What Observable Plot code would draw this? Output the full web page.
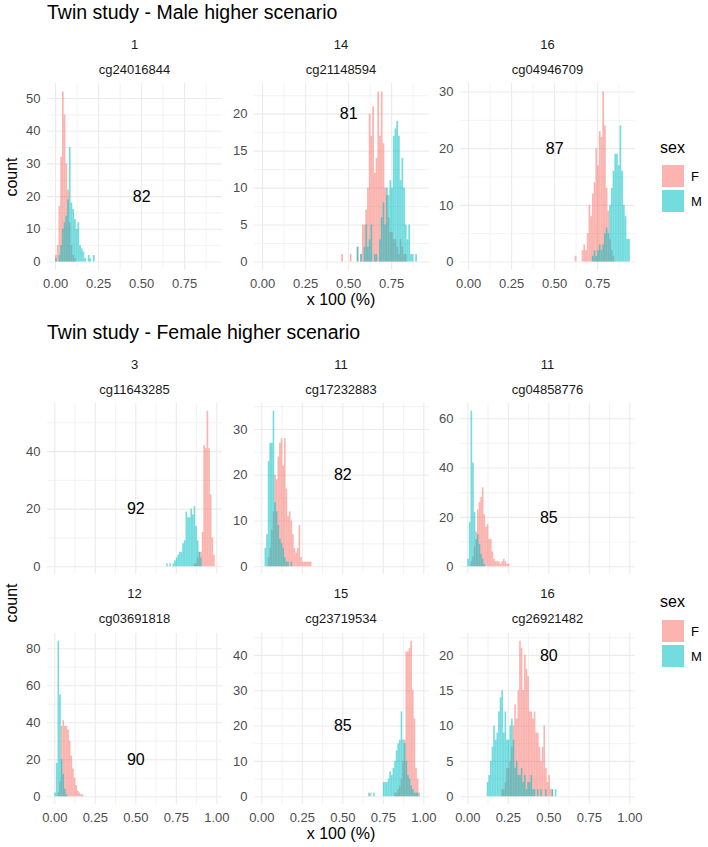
<!DOCTYPE html>
<html><head><meta charset="utf-8">
<script src="https://cdn.jsdelivr.net/npm/d3@7"></script>
<script src="https://cdn.jsdelivr.net/npm/@observablehq/plot@0.6"></script>
<style>
body{margin:0;background:#fff;}
#root{position:relative;width:708px;height:847px;font-family:"Liberation Sans",Arial,Helvetica,sans-serif;overflow:hidden;background:#fff;}
.t{position:absolute;white-space:nowrap;line-height:1;}
.pan{position:absolute;}
</style></head><body><div id="root"></div>
<script>
// ---------------- data ----------------
const titles = ["Twin study - Male higher scenario", "Twin study - Female higher scenario"];
const chrs = ["1","14","16","3","11","11","12","15","16"];
const cpgs = ["cg24016844","cg21148594","cg04946709","cg11643285","cg17232883","cg04858776","cg03691818","cg23719534","cg26921482"];
const pcts = [82,81,87,92,82,85,90,85,80];
const pctLabelX = 0.5, pctLabelY = 20;
const sexes = ["F","M"];
const sexColors = ["#F8766D","#00BFC4"];
const binWidth = 0.01;

// first bin start of each panel's histogram
const startF = [0.00,0.46,0.62,0.86,0.04,0.02,0.02,0.67,0.21];
const startM = [0.00,0.55,0.72,0.69,0.02,0.00,0.00,0.66,0.12];

const F_cg24016844 = [2,5,17,32,52,45,30,22,12,5,2,1];
const M_cg24016844 = [1,0,2,5,10,12,14,19,35,18,16,13,10,12,5,4,3,1,0,2,1,0,2];
const F_cg21148594 = [1,0,0,0,0,1,0,0,0,2,0,1,5,5,7,10,20,17,21,12,14,23,17,23,16,10,9,6,4,4,3,3,2,1,3,2,1,1];
const M_cg21148594 = [2,0,1,0,2,5,2,3,5,0,1,1,0,3,6,8,5,10,9,11,10,17,18,19,17,11,14,10,5,3,5,1,1,0,1];
const F_cg04946709 = [1,0,0,0,2,3,2,5,10,8,12,14,20,17,23,22,30,24,13,9,4,2,1];
const M_cg04946709 = [1,2,1,2,3,2,3,5,6,5,10,13,16,19,19,17,24,16,10,8,4,4];
const F_cg11643285 = [1,1,3,5,5,12,42,41,54,41,25,10,4];
const M_cg11643285 = [1,0,1,0,1,2,3,4,5,5,8,9,19,17,17,20,18,21,14,9,5,3];
const F_cg17232883 = [2,4,8,12,20,19,24,27,28,22,28,17,11,12,10,7,4,3,4,9,2,1,1,1,1,1,1];
const M_cg17232883 = [4,7,23,27,27,34,14,12,9,6,5,4,2,1,1,0,1];
const F_cg04858776 = [2,4,8,14,23,26,28,32,21,16,17,11,11,6,3,2,2,2,1,2,3,2,1,1];
const M_cg04858776 = [3,18,63,42,22,11,13,9,5,3,1];
const F_cg03691818 = [2,8,38,41,38,38,36,30,22,15,10,6,3,2,1,1];
const M_cg03691818 = [2,18,84,55,20,12,4,1];
const F_cg23719534 = [1,0,0,0,0,0,0,0,0,0,0,0,0,0,0,1,1,2,3,5,10,16,41,41,42,44,30,22,8,5,1];
const M_cg23719534 = [1,0,0,1,0,0,0,0,0,4,4,4,5,7,6,8,10,13,15,16,24,16,15,10,6,5,3,2,1,1,1];
const F_cg26921482 = [1,1,2,4,4,5,7,10,13,11,15,22,21,15,20,18,17,12,12,11,12,9,9,7,5,7,10,4,2,3,1,1];
const M_cg26921482 = [2,3,5,7,10,8,9,12,14,15,9,12,8,8,10,11,8,4,5,3,3,4,2,3,1,2,2,3,1,1,0,1,0,1,0,0,1,0,0,0,1,0,1];

const countsF = [F_cg24016844,F_cg21148594,F_cg04946709,F_cg11643285,F_cg17232883,F_cg04858776,F_cg03691818,F_cg23719534,F_cg26921482];
const countsM = [M_cg24016844,M_cg21148594,M_cg04946709,M_cg11643285,M_cg17232883,M_cg04858776,M_cg03691818,M_cg23719534,M_cg26921482];

const yTicks = [[0,10,20,30,40,50],[0,5,10,15,20],[0,10,20,30],[0,20,40],[0,10,20,30],[0,20,40,60],[0,20,40,60,80],[0,10,20,30,40],[0,5,10,15,20]];
const xTicksTop = [0,0.25,0.5,0.75];
const xTicksBottom = [0,0.25,0.5,0.75,1];
const xDomainTop = [-0.047, 0.97];
const xDomainBottom = [-0.045, 1.035];

// ---------------- helpers ----------------
const root = document.getElementById("root");
const FONT = '"Liberation Sans",Arial,Helvetica,sans-serif';
const ALPHA = 0.55;

function binRows(start, counts, sex) {
  return counts.map((c, j) => {
    const x1 = +(start + j * binWidth).toFixed(4);
    return {x1, x2: +(x1 + binWidth).toFixed(4), count: c, sex};
  }).filter(d => d.count > 0);
}
function minorBreaks(b, lim) {
  const bd = b[1] - b[0];
  const bb = b.slice();
  if (lim[0] < bb[0]) bb.unshift(bb[0] - bd);
  if (lim[1] > bb[bb.length - 1]) bb.push(bb[bb.length - 1] + bd);
  const out = [];
  for (let k = 0; k < bb.length - 1; k++) out.push((bb[k] + bb[k + 1]) / 2);
  return out.filter(v => v >= lim[0] && v <= lim[1]);
}
function addText(txt, opts) {
  const d = document.createElement("div");
  d.className = "t";
  d.textContent = txt;
  const f = opts.size;
  d.style.fontSize = f + "px";
  d.style.color = opts.color || "#000";
  if (opts.baseline != null) d.style.top = (opts.baseline - 0.8465 * f) + "px";
  if (opts.top != null) d.style.top = opts.top + "px";
  d.style.left = opts.left + "px";
  let tr = "";
  if (opts.center) tr += "translateX(-50%) ";
  if (opts.transform) tr += opts.transform;
  if (tr) d.style.transform = tr;
  root.appendChild(d);
  return d;
}

// ---------------- layout ----------------
const panelLefts = [47, 253.5, 460];
const panelW = 175;
const rowsLayout = [
  {top: 83, h: 187, xaxis: true, dom: xDomainTop, xt: xTicksTop},
  {top: 402.7, h: 171, xaxis: false, dom: xDomainBottom, xt: xTicksBottom},
  {top: 632.5, h: 171, xaxis: true, dom: xDomainBottom, xt: xTicksBottom}
];
const mL = 40, mB = 26;
const GRID = "#EBEBEB";

cpgs.forEach((cpg, i) => {
  const row = i < 3 ? 0 : (i < 6 ? 1 : 2);
  const col = i % 3;
  const L = rowsLayout[row];
  const F = binRows(startF[i], countsF[i], "F");
  const M = binRows(startM[i], countsM[i], "M");
  const maxC = d3.max([...F, ...M], d => d.count);
  const ydom = [-0.05 * maxC, 1.05 * maxC];
  const yt = yTicks[i];
  const yMinor = minorBreaks(yt, ydom);
  const xMinor = minorBreaks(L.xt, L.dom);
  const mb = L.xaxis ? mB : 0;
  const marks = [
    Plot.ruleX(xMinor, {x: d => d, stroke: GRID, strokeWidth: 0.6}),
    Plot.ruleY(yMinor, {y: d => d, stroke: GRID, strokeWidth: 0.6}),
    Plot.ruleX(L.xt, {x: d => d, stroke: GRID, strokeWidth: 1.1}),
    Plot.ruleY(yt, {y: d => d, stroke: GRID, strokeWidth: 1.1}),
    Plot.rectY(F, {x1: "x1", x2: "x2", y1: 0, y2: "count", fill: sexColors[0], fillOpacity: ALPHA, inset: 0}),
    Plot.rectY(M, {x1: "x1", x2: "x2", y1: 0, y2: "count", fill: sexColors[1], fillOpacity: ALPHA, inset: 0}),
    Plot.text([pcts[i]], {x: () => pctLabelX, y: () => pctLabelY, text: d => String(d), fontSize: 16, fill: "#000"}),
    Plot.axisY({ticks: yt, tickSize: 0, tickPadding: 7, label: null, fill: "#4D4D4D"})
  ];
  if (L.xaxis) marks.push(Plot.axisX({ticks: L.xt, tickSize: 0, tickPadding: 8, tickFormat: d3.format(".2f"), label: null, fill: "#4D4D4D"}));
  const chart = Plot.plot({
    width: mL + panelW,
    height: L.h + mb,
    marginLeft: mL, marginRight: 0, marginTop: 0, marginBottom: mb,
    x: {domain: L.dom, axis: L.xaxis ? undefined : null},
    y: {domain: ydom},
    style: {fontSize: "13px", fontFamily: FONT, color: "#4D4D4D", background: "transparent", overflow: "visible"},
    marks
  });
  const wrap = document.createElement("div");
  wrap.className = "pan";
  wrap.style.left = (panelLefts[col] - mL) + "px";
  wrap.style.top = L.top + "px";
  wrap.appendChild(chart);
  root.appendChild(wrap);

  // strip labels
  const cx = panelLefts[col] + panelW / 2;
  const cgBase = L.top - 9;
  addText(cpg, {size: 13, baseline: cgBase, left: cx, center: true, color: "#1A1A1A"});
  addText(chrs[i], {size: 13, baseline: cgBase - 25, left: cx, center: true, color: "#1A1A1A"});
});

// titles
addText(titles[0], {size: 19.5, baseline: 20, left: 47});
addText(titles[1], {size: 19.5, baseline: 340, left: 47});

// axis titles
const midX = panelLefts[1] + panelW / 2;
addText("x 100 (%)", {size: 16, baseline: 305.7, left: midX, center: true});
addText("x 100 (%)", {size: 16, baseline: 839.2, left: midX, center: true});
function countLabel(cy) {
  const d = addText("count", {size: 16, top: cy - 8, left: 11.5});
  d.style.transform = "translateX(-50%) rotate(-90deg)";
  d.style.transformOrigin = "50% 50%";
}
countLabel((83 + 270) / 2);
countLabel((402.7 + 803.5) / 2);

// legends
function legend(titleCy, keyTop) {
  const lx = 660, ks = 25;
  addText("sex", {size: 16, baseline: titleCy + 0.358 * 16, left: lx});
  sexes.forEach((s, k) => {
    const box = document.createElement("div");
    box.style.position = "absolute";
    box.style.left = (lx + 1.5) + "px";
    box.style.top = (keyTop + k * ks + 1.5) + "px";
    box.style.width = (ks - 3) + "px";
    box.style.height = (ks - 3) + "px";
    box.style.background = sexColors[k];
    box.style.opacity = ALPHA;
    root.appendChild(box);
    const cy = keyTop + k * ks + ks / 2;
    addText(s, {size: 13, baseline: cy + 0.358 * 13, left: lx + ks + 6, color: "#000"});
  });
}
legend(148, 163.5);
legend(602, 618.5);
</script></body></html>
